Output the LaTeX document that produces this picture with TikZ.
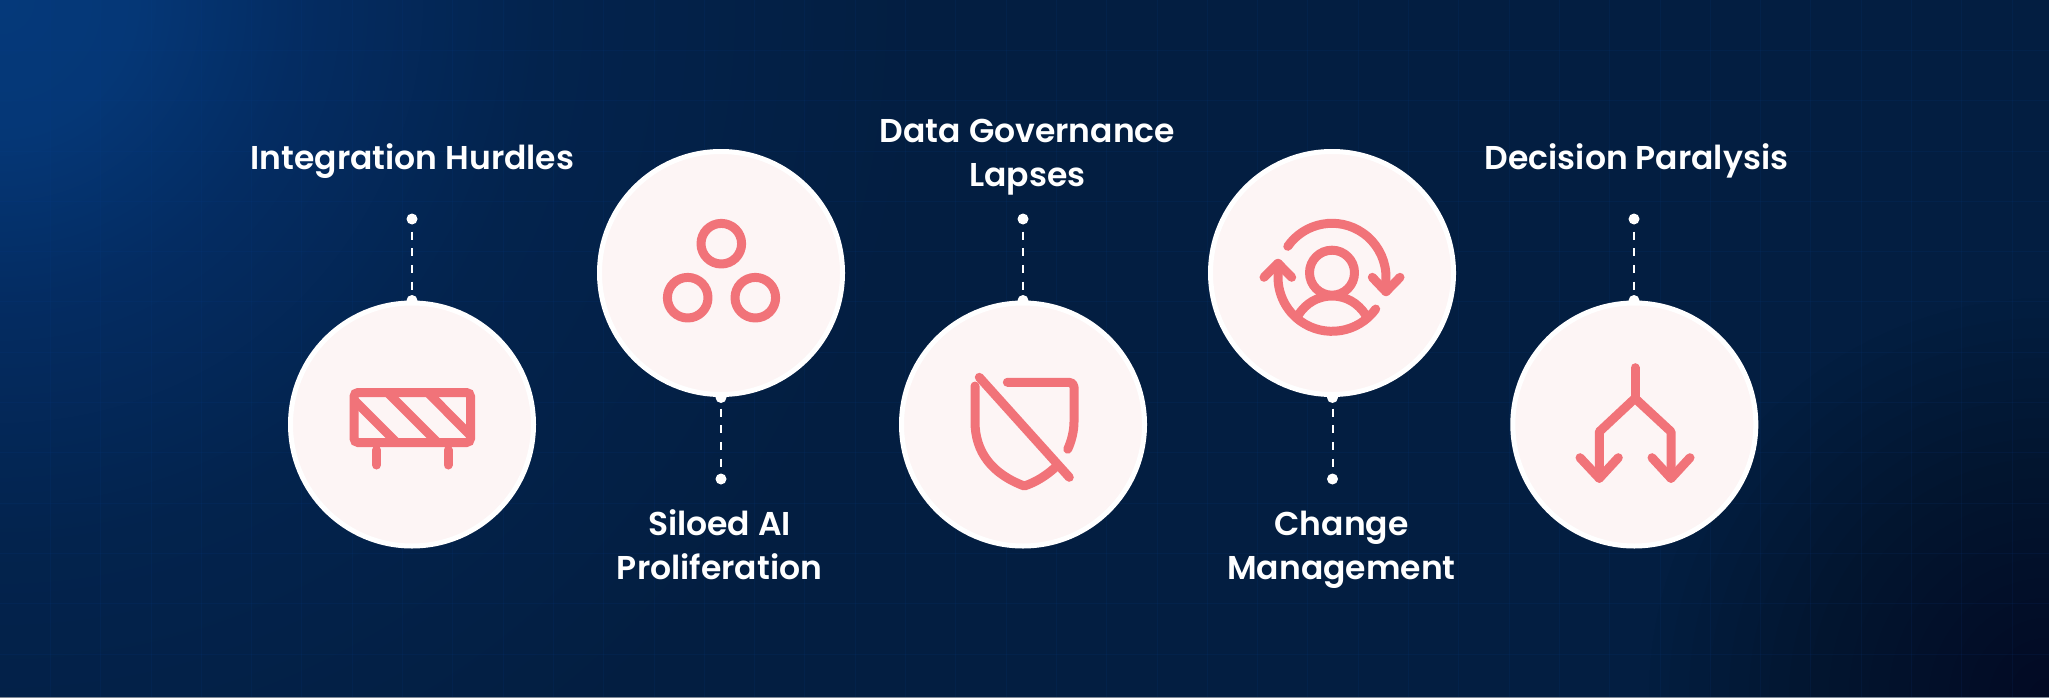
\documentclass[tikz,border=0pt]{standalone}
\usepackage{fontspec}
\newfontfamily\popfont{Poppins SemiBold}
\definecolor{bgmid}{HTML}{031E41}
\definecolor{bgtop}{HTML}{05397A}
\definecolor{bgb}{HTML}{042C62}
\definecolor{bgc}{HTML}{03234D}
\definecolor{discfill}{HTML}{FDF5F5}
\definecolor{iconred}{HTML}{F17379}
\definecolor{gridc}{HTML}{0B3F8F}
\definecolor{edgec}{HTML}{7D8896}
\definecolor{darkc}{HTML}{020A10}
\pgfdeclareradialshading{bgshade}{\pgfpoint{0bp}{0bp}}{%
 color(0bp)=(bgtop);color(1.5bp)=(bgtop!85!bgb);color(3.4bp)=(bgb);color(6.2bp)=(bgc);color(10.5bp)=(bgmid);color(50bp)=(bgmid)}
\tikzset{
  disc/.style={circle,draw=white,fill=discfill,line width=5pt,minimum size=243pt,inner sep=0pt,outer sep=0pt},
  dotnode/.style={circle,fill=white,minimum size=11pt,inner sep=0pt,outer sep=0pt},
  dashline/.style={draw=white,line width=2pt,dash pattern=on 8pt off 8.7pt},
  icon/.style={draw=iconred,line width=9pt,line cap=round,line join=round},
  label/.style={text=white,align=center,font=\popfont\fontsize{33}{44}\selectfont,inner sep=0pt},
  gridline/.style={draw=gridc,line width=0.8pt,opacity=0.12}
}
\begin{document}
\begin{tikzpicture}[x=1pt,y=-1pt]
\useasboundingbox (0,0) rectangle (2049,698);
% background
\fill[bgmid] (0,0) rectangle (2049,698);
\begin{scope}
\clip (0,0) rectangle (2049,698);
\shade[shading=bgshade] (-2200,-2200) rectangle (2200,2200);
\foreach \r in {20,40,...,400}{\fill[darkc,opacity=0.03] (2049,698) circle (\r);}
\foreach \i in {1,...,40}{\draw[gridline] ({\i*50.3},0) -- ({\i*50.3},698);}
\foreach \i in {1,...,13}{\draw[gridline] (0,{\i*50.3}) -- (2049,{\i*50.3});}
\end{scope}
\fill[edgec] (0,697) rectangle (2049,698);
% end dots
\node[dotnode] (t1) at (412,219) {};
\node[dotnode] (j1) at (412,300.5) {};
\node[dotnode] (j2) at (721,397.5) {};
\node[dotnode] (t2) at (721,479) {};
\node[dotnode] (t3) at (1023,219) {};
\node[dotnode] (j3) at (1023,300.5) {};
\node[dotnode] (j4) at (1332.5,397.5) {};
\node[dotnode] (t4) at (1332.5,479) {};
\node[dotnode] (t5) at (1634,219) {};
\node[dotnode] (j5) at (1634,300.5) {};
% connectors
\draw[dashline,shorten <=7pt] (t1) -- (j1);
\draw[dashline,shorten <=5.5pt] (j2) -- (t2);
\draw[dashline,shorten <=7pt] (t3) -- (j3);
\draw[dashline,shorten <=5.5pt] (j4) -- (t4);
\draw[dashline,shorten <=7pt] (t5) -- (j5);
% discs
\node[disc] (c1) at (412,424.5) {};
\node[disc] (c2) at (721,273) {};
\node[disc] (c3) at (1023,424.5) {};
\node[disc] (c4) at (1332,273) {};
\node[disc] (c5) at (1634.3,424.5) {};
% labels
\node[label] (l1) at (412.5,160.7) {\strut Integration Hurdles\strut};
\node[label] (l2) at (719.5,548.5) {\strut Siloed AI\\\strut Proliferation\strut};
\node[label] (l3) at (1027.5,155.5) {\strut Data Governance\\\strut Lapses\strut};
\node[label] (l4) at (1341.5,548.5) {\strut Change\\\strut Management\strut};
\node[label] (l5) at (1636.5,160.7) {\strut Decision Paralysis\strut};
% icon 1: barrier
\draw[icon,line join=miter,rounded corners=4pt] (354,392.5) rectangle (470.5,442.5);
\draw[icon] (376.5,450) -- (376.5,465);
\draw[icon] (448,450) -- (448,465);
\draw[icon,line cap=butt] (355,401) -- (396.3,442.3);
\draw[icon,line cap=butt] (387.5,392.5) -- (437.5,442.5);
\draw[icon,line cap=butt] (427.7,392.5) -- (470.5,435.5);
% icon 2: three rings
\draw[icon] (721.3,243.7) circle (20.3);
\draw[icon] (687.7,297.7) circle (20.3);
\draw[icon] (755.3,297.7) circle (20.3);
% icon 3: crossed shield
\draw[icon] (1007.3,382.3) -- (1069,382.3) .. controls (1072,382.3) and (1074,384) .. (1074,387) -- (1074,421.7) .. controls (1074,431) and (1071.5,441) .. (1067.7,449.3);
\draw[icon] (975,386) -- (975,421.7) .. controls (975,452) and (992,474) .. (1024.3,486) .. controls (1035,482.5) and (1046,476) .. (1056,466.7);
\draw[icon] (979.3,377.3) -- (1069.3,477.3);
% icon 4: person with cycle
\coordinate (hub) at (1332,277.3);
\draw[icon] (1332,272.7) circle (22.5);
\draw[icon] (hub) ++(-145:54) arc[start angle=-145,end angle=-5,radius=54] -- (1386,291.7);
\draw[icon] (1372.3,277.3) -- (1386,291.7) -- (1400,277.3);
\draw[icon] (hub) ++(36:54) arc[start angle=36,end angle=180,radius=54] -- (1278,263.3);
\draw[icon] (1264,277.3) -- (1278,263.3) -- (1291.7,277.3);
\draw[icon,line cap=butt] (1298.3,315) .. controls (1306,303) and (1318,296) .. (1332,296) .. controls (1346,296) and (1358,303) .. (1365.7,315);
% icon 5: split arrows
\draw[icon] (1635,367.7) -- (1635,398.3);
\draw[icon] (1599.3,478.3) -- (1599.3,431.7) -- (1635,398.3) -- (1671,431.7) -- (1671,478.3);
\draw[icon] (1580,457.7) -- (1599.3,478.3) -- (1618.3,457.7);
\draw[icon] (1652,457.7) -- (1671,478.3) -- (1690,457.7);
\end{tikzpicture}
\end{document}
